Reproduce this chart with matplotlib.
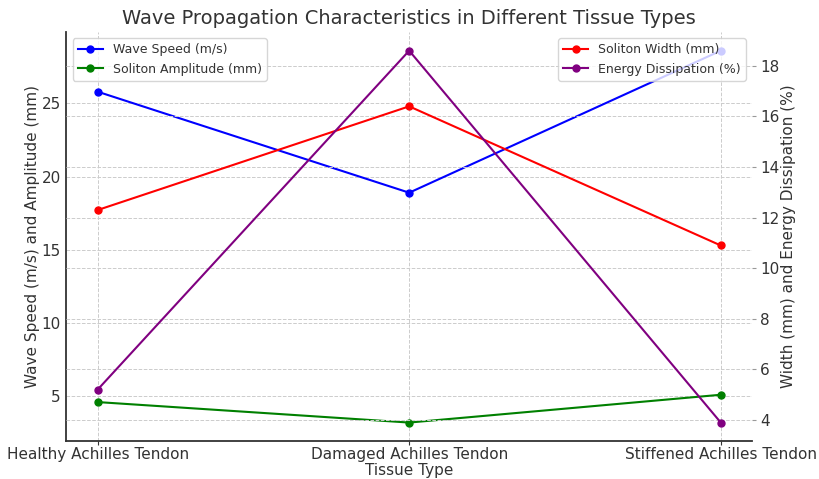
import matplotlib.pyplot as plt
import numpy as np

tissues = ['Healthy Achilles Tendon', 'Damaged Achilles Tendon', 'Stiffened Achilles Tendon']
wave_speed = [25.8, 18.9, 28.6]
soliton_amplitude = [4.6, 3.2, 5.1]
soliton_width = [12.3, 16.4, 10.9]
energy_dissipation = [5.2, 18.6, 3.9]

plt.rcParams['text.color'] = '#333333'
plt.rcParams['axes.labelcolor'] = '#333333'
plt.rcParams['xtick.labelcolor'] = '#333333'
plt.rcParams['ytick.labelcolor'] = '#333333'

x = np.arange(len(tissues))

fig, ax1 = plt.subplots(figsize=(8.2, 4.79), dpi=100)
fig.subplots_adjust(left=0.081, right=0.917, bottom=0.079, top=0.933)

l1, = ax1.plot(x, wave_speed, marker='o', color='blue', label='Wave Speed (m/s)', markersize=5)
l2, = ax1.plot(x, soliton_amplitude, marker='o', color='green', label='Soliton Amplitude (mm)', markersize=5)
ax1.set_xlabel('Tissue Type', fontsize=11, labelpad=1)
ax1.set_ylabel('Wave Speed (m/s) and Amplitude (mm)', fontsize=11, labelpad=1)
ax1.set_xticks(x)
ax1.set_xticklabels(tissues, fontsize=11)
ax1.tick_params(axis='y', labelsize=11, length=0, pad=4)
ax1.tick_params(axis='x', length=3, color='#333333', pad=1)
ax1.grid(True, linestyle='--', color='#cccccc', linewidth=0.7)

ax2 = ax1.twinx()
l3, = ax2.plot(x, soliton_width, marker='o', color='red', label='Soliton Width (mm)', markersize=5)
l4, = ax2.plot(x, energy_dissipation, marker='o', color='purple', label='Energy Dissipation (%)', markersize=5)
ax2.set_ylabel('Width (mm) and Energy Dissipation (%)', fontsize=11, labelpad=1)
ax2.tick_params(axis='y', labelsize=11, length=3, color='#999999', pad=3)
ax2.grid(True, linestyle='--', color='#cccccc', linewidth=0.7)

# both legends on the twin axes so the grid doesn't run over them
leg1 = ax2.legend(handles=[l1, l2], loc='upper left', fontsize=9)
ax2.add_artist(leg1)
ax2.legend(handles=[l3, l4], loc='upper right', fontsize=9)

for ax in (ax1, ax2):
    ax.spines['top'].set_visible(False)
    ax.spines['right'].set_visible(False)
ax2.spines['left'].set_visible(False)
ax2.spines['bottom'].set_visible(False)
ax1.spines['left'].set_color('#333333')
ax1.spines['bottom'].set_color('#333333')
ax1.spines['left'].set_linewidth(1.3)
ax1.spines['bottom'].set_linewidth(1.3)

plt.title('Wave Propagation Characteristics in Different Tissue Types', fontsize=14)
plt.savefig('out.png')
